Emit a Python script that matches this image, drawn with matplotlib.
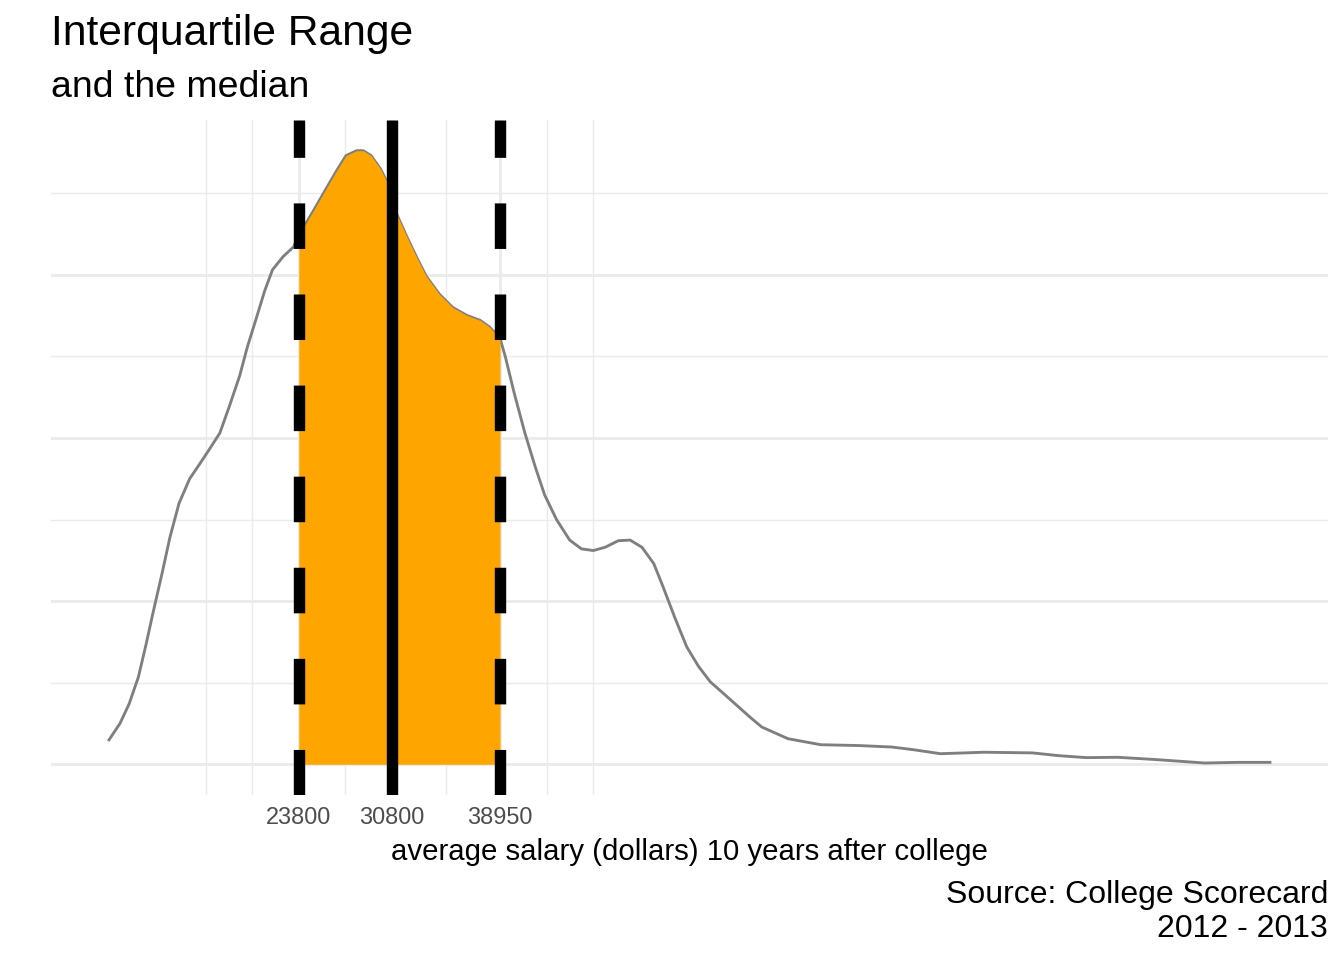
import numpy as np
import matplotlib
matplotlib.use("Agg")
import matplotlib.pyplot as plt

# density curve (salary in dollars, density in units of 1e-5)
salary = [9520, 10340, 11030, 11730, 12320, 12820, 13510, 14100, 14790, 15590,
          16380, 17070, 17860, 18560, 19350, 19940, 20630, 21230, 21820, 22610,
          23400, 23800, 24890, 25880, 26670, 27360, 28150, 28650, 29240, 29940,
          30430, 31120, 31920, 32710, 33400, 34390, 35380, 36470, 37460, 38150,
          38950, 39340, 40030, 40820, 41610, 42310, 43200, 44190, 45080, 45970,
          46860, 47850, 48740, 49630, 50520, 51210, 52100, 53000, 53890, 54780,
          55770, 56760, 57750, 58640, 60620, 63090, 65960, 68430, 70020, 72100,
          75360, 79020, 81000, 83080, 85460, 88330, 91990, 94460, 96900]
density_e5 = [0.15, 0.25, 0.37, 0.535, 0.74, 0.925, 1.17, 1.39, 1.60, 1.75,
              1.845, 1.93, 2.03, 2.19, 2.38, 2.56, 2.74, 2.90, 3.03, 3.11,
              3.17, 3.24, 3.39, 3.53, 3.64, 3.73, 3.76, 3.76, 3.73, 3.65,
              3.57, 3.38, 3.235, 3.10, 2.99, 2.88, 2.80, 2.75, 2.72, 2.68,
              2.61, 2.50, 2.27, 2.03, 1.82, 1.65, 1.50, 1.374, 1.32, 1.31,
              1.33, 1.37, 1.374, 1.33, 1.23, 1.09, 0.90, 0.72, 0.60, 0.505,
              0.434, 0.362, 0.29, 0.229, 0.157, 0.12, 0.115, 0.106, 0.09, 0.065,
              0.074, 0.07, 0.053, 0.041, 0.043, 0.029, 0.008, 0.012, 0.012]

q1 = 23800
median = 30800
q3 = 38950
x_breaks = [q1, median, q3]
x_labels = ["23800", "30800", "38950"]
y_breaks_e5 = [0, 1, 2, 3]

title = "Interquartile Range"
subtitle = "and the median"
xlabel = "average salary (dollars) 10 years after college"
caption = "Source: College Scorecard\n2012 - 2013"

x = np.array(salary, dtype=float)
y = np.array(density_e5) * 1e-5

plt.rcParams['font.family'] = ['Liberation Sans', 'DejaVu Sans']

W, H = 1344, 960
fig = plt.figure(figsize=(7, 5), dpi=192)
left, right, top, bottom = 51, 1328, 120, 795
ax = fig.add_axes([left / W, 1 - bottom / H, (right - left) / W, (bottom - top) / H])

# grid like theme_minimal: minor breaks halfway between (extended) majors
def minor_breaks(b):
    d = b[1] - b[0]
    ext = [b[0] - d] + list(b) + [b[-1] + d]
    mids = [(ext[i] + ext[i + 1]) / 2 for i in range(len(ext) - 1)]
    return sorted(set(ext + mids) - set(b))

yb = [v * 1e-5 for v in y_breaks_e5]
ax.set_xticks(x_breaks)
ax.set_xticklabels(x_labels)
ax.set_xticks(minor_breaks(x_breaks), minor=True)
ax.set_yticks(yb)
ax.set_yticks(minor_breaks(yb), minor=True)

# ggplot style limits (5% expansion)
xr = x.max() - x.min()
ax.set_xlim(x.min() - 0.05 * xr, x.max() + 0.05 * xr)
ax.set_ylim(-0.05 * y.max(), 1.05 * y.max())

ax.grid(which='major', color='#EBEBEB', linewidth=1.07)
ax.grid(which='minor', color='#EBEBEB', linewidth=0.53)
ax.set_axisbelow(True)
ax.tick_params(which='both', length=0)
ax.tick_params(axis='x', labelsize=8.8, labelcolor='#4D4D4D', pad=4)
ax.tick_params(axis='y', labelleft=False)
for s in ax.spines.values():
    s.set_visible(False)

ax.plot(x, y, color='#7F7F7F', linewidth=1.07, solid_joinstyle='round', zorder=2)
inside = (x >= q1) & (x <= q3)
ax.fill_between(x[inside], 0, y[inside], color='orange', linewidth=0, zorder=3)

lw = 4.27
ax.axvline(q1, color='black', linewidth=lw, linestyle=(0, (4, 4)), zorder=4)
ax.axvline(q3, color='black', linewidth=lw, linestyle=(0, (4, 4)), zorder=4)
ax.axvline(median, color='black', linewidth=lw, solid_capstyle='butt', zorder=4)

fig.text(51 / W, 1 - 45 / H, title, fontsize=16, va='baseline', ha='left')
fig.text(51 / W, 1 - 97 / H, subtitle, fontsize=14, va='baseline', ha='left')
fig.text((left + right) / 2 / W, 1 - 860 / H, xlabel, fontsize=11, va='baseline', ha='center')
for i, line in enumerate(caption.split("\n")):
    fig.text(right / W, 1 - (903 + 34 * i) / H, line, fontsize=12, va='baseline', ha='right')

fig.savefig("out.png", dpi=192)
